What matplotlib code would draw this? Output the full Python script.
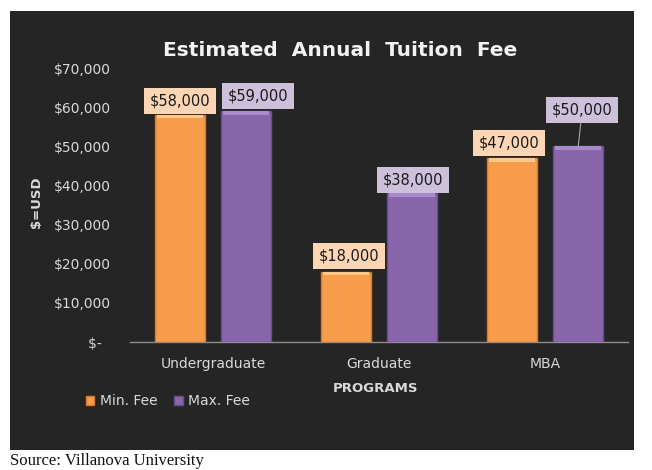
import matplotlib
matplotlib.use("Agg")
import matplotlib.pyplot as plt
from matplotlib.patches import Rectangle, Patch
import numpy as np

categories = ["Undergraduate", "Graduate", "MBA"]
min_fee = [58000, 18000, 47000]
max_fee = [59000, 38000, 50000]
series_names = ["Min. Fee", "Max. Fee"]
ytick_vals = [0, 10000, 20000, 30000, 40000, 50000, 60000, 70000]
ytick_labels = ["$-  ", "$10,000", "$20,000", "$30,000", "$40,000", "$50,000", "$60,000", "$70,000"]

W, H = 652, 470
fig = plt.figure(figsize=(W / 100, H / 100), dpi=100)
fig.patch.set_facecolor("white")

def fx(px):
    return px / W

def fy(py):
    return 1 - py / H

bg = "#252525"
fig.patches.append(Rectangle((fx(10), fy(450)), fx(634) - fx(10), fy(11) - fy(450),
                             transform=fig.transFigure, facecolor=bg, edgecolor="none", zorder=-10))

ax = fig.add_axes([fx(130), fy(342), fx(628) - fx(130), fy(68) - fy(342)])
ax.set_facecolor("none")
ax.set_zorder(1)

orange = "#F79C4A"
purple = "#8966AC"
orange_edge = "#D9792A"
purple_edge = "#6A4E8C"
orange_lbl = "#FCD5B4"
purple_lbl = "#CCC0DA"

x = np.arange(len(categories))
w = 0.30
off = 0.20
b1 = ax.bar(x - off, min_fee, w, color=orange, edgecolor=orange_edge, linewidth=1.0, zorder=3)
b2 = ax.bar(x + off, max_fee, w, color=purple, edgecolor=purple_edge, linewidth=1.0, zorder=3)

# subtle bevel highlight at top of bars
for bars, hl in ((b1, "#FFC98A"), (b2, "#A98BCB")):
    for r in bars:
        ax.add_patch(Rectangle((r.get_x() + 0.01, r.get_height() - 900), r.get_width() - 0.02, 900,
                               facecolor=hl, edgecolor="none", zorder=4))

ax.set_xlim(-0.5, 2.5)
ax.set_ylim(0, 70000)
ax.set_yticks(ytick_vals)
ax.set_yticklabels(ytick_labels)
ax.set_xticks(x)
ax.set_xticklabels(categories)
ax.tick_params(axis="both", length=0, colors="#D9D9D9", labelsize=10)
ax.tick_params(axis="y", pad=14)
ax.tick_params(axis="x", pad=11)
for s in ("top", "right", "left"):
    ax.spines[s].set_visible(False)
ax.spines["bottom"].set_color("#8C8C8C")
ax.spines["bottom"].set_linewidth(1)

# data labels (pixel offsets from bar top-centre)
label_offsets_min = [(0, 14), (3, 16), (-3, 15)]
label_offsets_max = [(12, 15), (1, 13), (4, 36)]

def add_labels(bars, vals, offs, fc):
    for r, v, (dx, dy) in zip(bars, vals, offs):
        xc = r.get_x() + r.get_width() / 2
        arrow = None
        if dy > 25:
            arrow = dict(arrowstyle="-", color="#A6A6A6", lw=0.8, shrinkA=0, shrinkB=0)
        ax.annotate(f"${v:,.0f}", xy=(xc, v), xytext=(dx, dy), textcoords="offset pixels",
                    ha="center", va="center", fontsize=10.5, color="#1A1A1A",
                    family="DejaVu Sans",
                    bbox=dict(boxstyle="square,pad=0.38", facecolor=fc, edgecolor="none"),
                    arrowprops=arrow, zorder=6, annotation_clip=False)

add_labels(b1, min_fee, label_offsets_min, orange_lbl)
add_labels(b2, max_fee, label_offsets_max, purple_lbl)

fig.text(fx(340), fy(50), "Estimated  Annual  Tuition  Fee", ha="center", va="center",
         fontsize=14.5, fontweight="bold", color="#F2F2F2")
fig.text(fx(36), fy(202), "$=USD", ha="center", va="center", rotation=90,
         fontsize=9.5, fontweight="bold", color="#D9D9D9")
fig.text(fx(375), fy(388), "PROGRAMS", ha="center", va="center",
         fontsize=9.5, fontweight="bold", color="#D9D9D9")

handles = [Patch(facecolor=orange, edgecolor=orange_edge), Patch(facecolor=purple, edgecolor=purple_edge)]
leg = fig.legend(handles, series_names, loc="center left", bbox_to_anchor=(fx(86), fy(401)),
                 ncol=2, frameon=False, fontsize=10, handlelength=0.6, handleheight=0.6,
                 handletextpad=0.4, columnspacing=1.2, borderaxespad=0, borderpad=0)
for t in leg.get_texts():
    t.set_color("#D9D9D9")

fig.text(fx(10), fy(461), "Source: Villanova University", ha="left", va="center",
         fontsize=12, family="Liberation Serif", color="#111111")

fig.savefig("out.png", dpi=100, facecolor=fig.get_facecolor())
